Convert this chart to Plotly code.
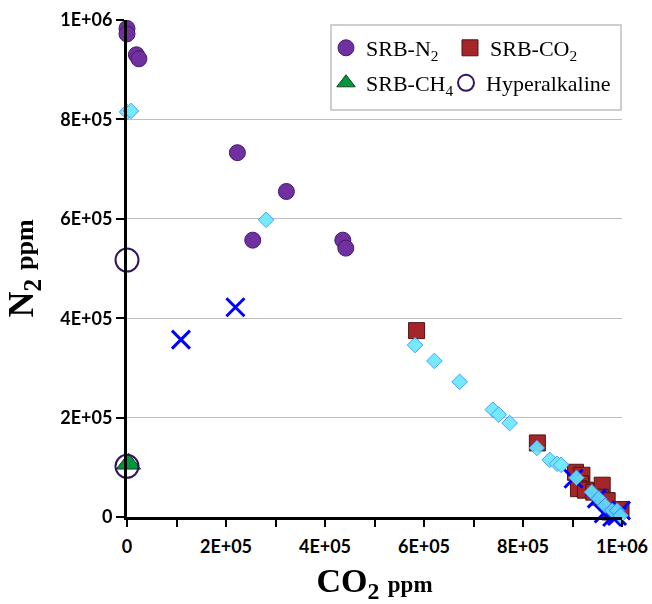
import plotly.graph_objects as go

# ---------------- data ----------------
n2_x = [0, 0, 19e3, 24e3, 223e3, 322e3, 254e3, 436e3, 442e3]
n2_y = [983e3, 972e3, 930e3, 922e3, 733e3, 655e3, 557e3, 557e3, 541e3]

co2_x = [585e3, 829e3, 906e3, 919e3, 916e3, 912e3, 926e3, 943e3, 960e3, 956e3, 970e3, 976e3, 998e3]
co2_y = [375e3, 149e3, 90e3, 84e3, 67e3, 57e3, 54e3, 50e3, 64e3, 40e3, 33e3, 10e3, 15e3]

ch4_x = [3e3]
ch4_y = [107e3]

hyp_x = [0, 0]
hyp_y = [517e3, 102e3]

cross_x = [109e3, 219e3, 902e3, 949e3, 963e3, 980e3, 990e3, 998e3]
cross_y = [357e3, 422e3, 77e3, 37e3, 7e3, 0, 2e3, 13e3]

dia_x = [0, 8e3, 281e3, 582e3, 621e3, 672e3, 739e3, 751e3, 773e3, 828e3, 854e3, 869e3, 877e3,
         908e3, 939e3, 953e3, 966e3, 980e3, 990e3, 997e3]
dia_y = [815e3, 817e3, 598e3, 346e3, 314e3, 272e3, 216e3, 206e3, 189e3, 139e3, 115e3, 107e3, 105e3,
         79e3, 50e3, 37e3, 23e3, 13e3, 13e3, 3e3]

x_tickvals = [0, 1e5, 2e5, 3e5, 4e5, 5e5, 6e5, 7e5, 8e5, 9e5, 1e6]
x_ticktext = ["0", " ", "2E+05", " ", "4E+05", " ", "6E+05", " ", "8E+05", " ", "1E+06"]
y_tickvals = [0, 2e5, 4e5, 6e5, 8e5, 1e6]
y_ticktext = ["0", "2E+05", "4E+05", "6E+05", "8E+05", "1E+06"]

# ---------------- figure ----------------
fig = go.Figure()

fig.add_trace(go.Scatter(
    x=n2_x, y=n2_y, mode="markers", name="SRB-N<sub>2</sub>", legend="legend",
    marker=dict(symbol="circle", size=16, color="rgb(112,48,160)",
                line=dict(color="rgb(70,25,110)", width=1)), cliponaxis=False))
fig.add_trace(go.Scatter(
    x=co2_x, y=co2_y, mode="markers", name="SRB-CO<sub>2</sub>", legend="legend2",
    marker=dict(symbol="square", size=16, color="rgb(165,38,40)",
                line=dict(color="rgb(80,20,20)", width=1)), cliponaxis=False))
fig.add_trace(go.Scatter(
    x=ch4_x, y=ch4_y, mode="markers", name="SRB-CH<sub>4</sub>", legend="legend3",
    marker=dict(symbol="triangle-up", size=21, color="rgb(0,150,60)",
                line=dict(color="rgb(20,70,30)", width=1)), cliponaxis=False))
fig.add_trace(go.Scatter(
    x=hyp_x, y=hyp_y, mode="markers", name="Hyperalkaline", legend="legend4",
    marker=dict(symbol="circle", size=23, color="rgba(0,0,0,0)",
                line=dict(color="rgb(50,20,95)", width=2)), cliponaxis=False))
fig.add_trace(go.Scatter(
    x=cross_x, y=cross_y, mode="markers", showlegend=False,
    marker=dict(symbol="x-thin", size=18, color="rgb(0,0,255)",
                line=dict(color="rgb(0,0,255)", width=3)), cliponaxis=False))
fig.add_trace(go.Scatter(
    x=dia_x, y=dia_y, mode="markers", showlegend=False, opacity=0.9,
    marker=dict(symbol="diamond", size=12, color="rgb(100,232,255)",
                line=dict(color="rgb(60,140,255)", width=1)), cliponaxis=False))

PL, PR, PT, PB = 127, 30, 20, 87
W, H = 652, 604
pw, ph = W - PL - PR, H - PT - PB

def px2paper_x(px):
    return (px - PL) / pw

def px2paper_y(py):
    return (H - PB - py) / ph

legend_font = dict(family="Liberation Serif", size=22, color="black")

def leg(xpx, ypx):
    return dict(x=px2paper_x(xpx), y=px2paper_y(ypx), xanchor="left", yanchor="middle",
                bgcolor="rgba(0,0,0,0)", borderwidth=0, font=legend_font,
                itemsizing="trace")

fig.update_layout(
    width=W, height=H,
    margin=dict(l=PL, r=PR, t=PT, b=PB, autoexpand=False),
    plot_bgcolor="white", paper_bgcolor="white",
    legend=leg(326, 48),
    legend2=leg(450, 48),
    legend3=leg(326, 83),
    legend4=leg(446, 83),
    shapes=[dict(type="rect", xref="paper", yref="paper",
                 x0=px2paper_x(331), x1=px2paper_x(621),
                 y0=px2paper_y(110), y1=px2paper_y(25),
                 line=dict(color="rgb(190,190,190)", width=1.5),
                 fillcolor="white", layer="below")],
    xaxis=dict(
        range=[0, 1e6], showgrid=False, zeroline=False, automargin=False,
        showline=True, linecolor="black", linewidth=3,
        ticks="outside", ticklen=7, tickwidth=2, tickcolor="black",
        tickmode="array", tickvals=x_tickvals, ticktext=x_ticktext,
        tickfont=dict(family="Lato", size=18, color="black", weight="bold"),
        ticklabelstandoff=4,
        title=dict(text="CO<sub>2</sub> <span style='font-size:23px'>ppm</span>",
                   font=dict(family="Liberation Serif", size=34, color="black", weight="bold"),
                   standoff=18),
    ),
    yaxis=dict(
        range=[0, 1e6], showgrid=True, gridcolor="rgb(190,190,190)", gridwidth=1.2,
        zeroline=False, showline=True, linecolor="black", linewidth=3, automargin=False,
        ticks="outside", ticklen=8, tickwidth=2, tickcolor="black",
        tickmode="array", tickvals=y_tickvals, ticktext=y_ticktext,
        tickfont=dict(family="Lato", size=18, color="black", weight="bold"),
        title=dict(text="N<sub>2</sub> <span style='font-size:26px'>ppm</span>",
                   font=dict(family="Liberation Serif", size=36, color="black", weight="bold"),
                   standoff=16),
    ),
)

fig.write_html("out.html")
